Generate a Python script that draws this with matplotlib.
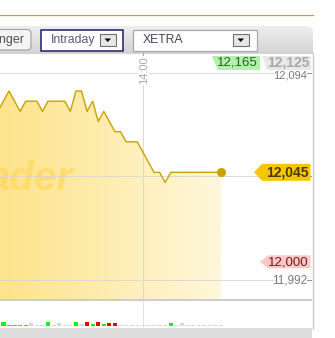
import matplotlib
matplotlib.use("Agg")
import numpy as np
import matplotlib.pyplot as plt
from matplotlib.patches import Polygon, Rectangle, FancyBboxPatch

plt.rcParams['font.family'] = ['Liberation Sans', 'DejaVu Sans']

# Kurs (Index = Zeitschritt, 25 = 14:00)
idx = list(range(-1, 40))
price = [12.075, 12.080, 12.085, 12.080, 12.075, 12.080, 12.080, 12.080, 12.075, 12.080,
         12.080, 12.080, 12.080, 12.075, 12.085, 12.085, 12.075, 12.080, 12.070, 12.075,
         12.070, 12.065, 12.065, 12.060, 12.060, 12.060, 12.055, 12.050, 12.045, 12.045,
         12.040, 12.045, 12.045, 12.045, 12.045, 12.045, 12.045, 12.045, 12.045, 12.045,
         12.045]

# Umsatz
vol_idx = list(range(0, 40))
vol = [4, 1.5, 1.5, 1.5, 1.5, 3, 1.5, 1.5, 4, 1.5,
       3, 1, 1, 4, 2, 4, 2, 4, 2, 3,
       3, 1, 1, 1, 1, 1, 1, 1, 1, 1,
       3, 1, 3, 1, 1, 1, 1, 1, 1, 1]
vol_col = list("gggggsssgs" "sssgsrgrgr" "rsssssssss" "gsssssssss")

grid_vals = [12.094, 12.043, 11.992]
grid_labels = ["12,094", "12,043", "11,992"]
time_idx = 25
time_label = "14:00"
last_price = 12.045
last_label = "12,045"
low_price = 12.000
low_label = "12,000"
top_labels = ["12,165", "12,125"]

colmap = {"g": "#11f511", "r": "#ee0000", "s": "#d6d6d6"}
W, H = 335, 338

fig = plt.figure(figsize=(W / 100, H / 100), dpi=100, facecolor="white")

# Hintergrund in Pixelkoordinaten
bg = fig.add_axes([0, 0, 1, 1])
bg.set_xlim(0, W)
bg.set_ylim(H, 0)
bg.axis("off")

bg.plot([0, 313], [15, 15], color="#d4a700", lw=0.9)

# Toolbar mit Verlauf (Streifen), rechte obere Ecke abgerundet
tb_cols = matplotlib.colors.LinearSegmentedColormap.from_list("tb", ["#eeeeee", "#d2d2d2"])
corner = [4, 2.3, 1.2, 0.5, 0.1]
for k in range(28):
    cut = corner[k] if k < len(corner) else 0
    bg.add_patch(Rectangle((0, 25.5 + k), 313 - cut, 1.05, fc=tb_cols(k / 27),
                           ec="none", zorder=1))

btn = FancyBboxPatch((-10, 29.5), 41, 20.5, boxstyle="round,pad=0,rounding_size=4",
                     fc="#f4f4f4", ec="#a0a0a0", lw=0.8, zorder=2)
bg.add_patch(btn)
bg.text(23.5, 40, "Bollinger", ha="right", va="center", fontsize=9, color="#505050", zorder=3)

bg.add_patch(Rectangle((40.5, 29.5), 82, 21.5, fc="white", ec="#1c1c6c", lw=1.1, zorder=2))
bg.text(51, 40.5, "Intraday", ha="left", va="center", fontsize=8.8, color="#5a5a7a", zorder=3)
bg.add_patch(Rectangle((132.5, 29.5), 124, 21, fc="white", ec="#a8a8a8", lw=0.9, zorder=2))
bg.text(143, 40, "XETRA", ha="left", va="center", fontsize=8.8, color="#44445a", zorder=3)
for ax0 in (100, 233):
    bg.add_patch(Rectangle((ax0, 33.5), 15.5, 12.5, fc="#e6e6e6", ec="#707070", lw=0.8, zorder=3))
    bg.add_patch(Polygon([(ax0 + 4.5, 38.5), (ax0 + 11, 38.5), (ax0 + 7.75, 42)],
                         fc="black", ec="none", zorder=4))

bg.add_patch(Rectangle((0, 298.8), 312, 2.2, fc="#cdcdcd", ec="none", zorder=2))
bg.add_patch(Rectangle((0, 328.3), 312, 10, fc="#dcdcdc", ec="none", zorder=2))
bg.plot([312.5, 312.5], [53, 329], color="#c8c8c8", lw=0.9, zorder=3)

# Kurschart
ax = fig.add_axes([0, (H - 299) / H, 312 / W, 246 / H])
ax.set_xlim(-0.613, 55.33)
ax.set_ylim(11.9827, 12.1037)
ax.axis("off")
ax.patch.set_visible(False)

ymin = ax.get_ylim()[0]
poly = ax.fill_between(idx, price, ymin, color="none", lw=0)
fill_cmap = matplotlib.colors.LinearSegmentedColormap.from_list("f", ["#fde38a", "#fff7da"])
gimg = ax.imshow(np.linspace(0, 1, 128).reshape(1, -1), cmap=fill_cmap, aspect="auto",
                 extent=(-0.613, idx[-1], ymin, max(price)), zorder=1)
gimg.set_clip_path(poly.get_paths()[0], transform=ax.transData)
ax.set_xlim(-0.613, 55.33)
ax.set_ylim(11.9827, 12.1037)

ax.text(0.234, 0.443, "ader", transform=ax.transAxes, ha="right", va="baseline",
        family=["Liberation Sans Narrow", "Liberation Sans"], fontsize=29,
        fontweight="bold", style="italic", color="#ffd860", alpha=0.75,
        zorder=2, clip_on=True)

for v, lab in zip(grid_vals, grid_labels):
    ax.plot([0, 0.885], [v, v], transform=ax.get_yaxis_transform(), color="#d4d4d4",
            lw=0.7, alpha=0.8, zorder=3)
    ax.plot([0.985, 1.0], [v, v], transform=ax.get_yaxis_transform(), color="#909090",
            lw=0.7, zorder=3)
ax.text(0.985, grid_vals[2], grid_labels[2], transform=ax.get_yaxis_transform(),
        ha="right", va="center", fontsize=8.5, color="#7a7a7a", zorder=3)
ax.axvline(time_idx, ymax=0.985, color="#d8d8d8", lw=0.7, zorder=3)
ax.plot([time_idx, time_idx], [0.985, 1.0], transform=ax.get_xaxis_transform(),
        color="#a0a0a0", lw=0.7, zorder=4)
ax.text(time_idx + 0.15, 0.985, time_label, transform=ax.get_xaxis_transform(),
        rotation=90, ha="center", va="top", fontsize=8, color="#a8a8a8", zorder=4,
        bbox=dict(fc="white", ec="none", pad=0.5))

ax.plot(idx, price, color="#c8a200", lw=1.0, zorder=5)
ax.plot(idx[-1], price[-1], "o", color="#c9a200", ms=5.5, zorder=6)

fig.canvas.draw()


def px_y(val):
    return H - ax.transData.transform((0, val))[1]


# Kursmarken rechts
yc = px_y(last_price)
bg_tag = fig.add_axes([0, 0, 1, 1], zorder=10)
bg_tag.set_xlim(0, W)
bg_tag.set_ylim(H, 0)
bg_tag.axis("off")
bg_tag.add_patch(Polygon([(254, yc), (262, yc - 8.5), (310.5, yc - 8.5), (310.5, yc + 8.5),
                          (262, yc + 8.5)], fc="#f6c600", ec="none"))
bg_tag.text(309, yc + 0.5, last_label, ha="right", va="center", fontsize=10,
            fontweight="bold", color="#4a3d00")
yl = px_y(low_price) - 2
bg_tag.add_patch(Polygon([(260, yl), (268, yl - 6.5), (310.5, yl - 6.5), (310.5, yl + 6.5),
                          (268, yl + 6.5)], fc="#f9c8c8", ec="none"))
bg_tag.text(309, yl + 0.5, low_label, ha="right", va="center", fontsize=9.5, color="#7a1a1a")
bg_tag.add_patch(Polygon([(211.5, 55.5), (260, 55.5), (260, 70), (218, 70)],
                         fc="#b2f0aa", ec="none"))
bg_tag.text(258, 62.5, top_labels[0], ha="right", va="center", fontsize=9.5, color="#2f5a2f")
bg_tag.add_patch(Polygon([(262, 55.5), (311, 55.5), (311, 70), (267, 70)],
                         fc="#e8e8e8", ec="none"))
bg_tag.text(309, 62.5, top_labels[1], ha="right", va="center", fontsize=10,
            fontweight="bold", color="#a8a8a8")
bg_tag.text(307, 75.5, grid_labels[0], ha="right", va="center",
            fontsize=8, color="#7a7a7a")

# Umsatz
vax = fig.add_axes([0, (H - 328) / H, 312 / W, 27 / H])
vax.set_xlim(-0.613, 55.33)
vax.set_ylim(-2, 25)
vax.axis("off")
vax.patch.set_visible(False)
vax.axvline(time_idx, color="#e0e0e0", lw=0.7)
vax.bar(vol_idx, vol, width=0.75, color=[colmap[c] for c in vol_col])

fig.savefig("out.png", dpi=100, facecolor="white")
